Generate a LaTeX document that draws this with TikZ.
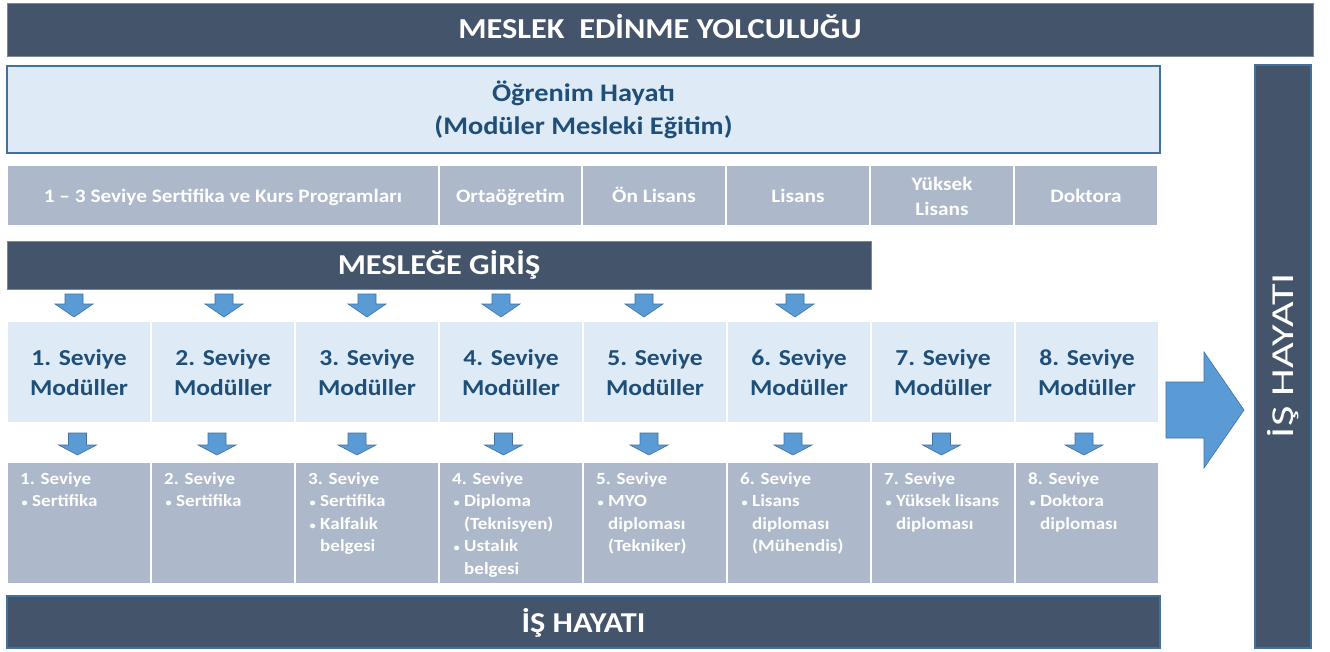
\documentclass[tikz,border=0pt]{standalone}
\usepackage{fontspec}
\setmainfont{Carlito}[FakeStretch=1.12]
\definecolor{darkbar}{HTML}{44546A}
\definecolor{lightbox}{HTML}{DEEBF7}
\definecolor{graybox}{HTML}{ADB9CA}
\definecolor{arrowblue}{HTML}{5B9BD5}
\definecolor{arrowedge}{HTML}{41719C}
\definecolor{textblue}{HTML}{1F4E79}
\tikzset{
  boxbase/.style={anchor=north west, inner sep=0pt, outer sep=0pt},
  darkbox/.style={boxbase, fill=darkbar, draw=darkbar!70!white, line width=0.8pt, text=white},
  edgedark/.style={boxbase, fill=darkbar, draw=arrowedge, line width=1.6pt, text=white},
  lightcell/.style={boxbase, fill=lightbox, draw=white, line width=1.5pt},
  graycell/.style={boxbase, fill=graybox, draw=white, line width=1.5pt},
  progtext/.style={text=white, font=\fontsize{19}{25}\selectfont\bfseries, align=center},
  leveltext/.style={text=textblue, font=\fontsize{22.8}{30}\selectfont\bfseries, align=center},
  certtext/.style={anchor=north west, inner sep=0pt, text=white, font=\fontsize{17}{22.5}\selectfont\bfseries, align=left},
  blockarrow/.style={fill=arrowblue, draw=arrowedge, line width=0.6pt}
}
\newcommand\bul[1]{\hspace*{1.5pt}\makebox[10.5pt][l]{\fontsize{11}{11}\selectfont •}#1}
\newcommand\cont[1]{\hspace*{12pt}#1}
\begin{document}
\begin{tikzpicture}[x=1pt,y=-1pt]
\useasboundingbox (0,0) rectangle (1330,652);
\fill[white] (0,0) rectangle (1330,652);

% title
\node[darkbox, minimum width=1306, minimum height=53] (title) at (7,3) {};
\node[text=white, font=\fontsize{28.9}{30}\selectfont\bfseries, anchor=base] (titletext) at ([yshift=-9.5]title.center) {MESLEK\ \ EDİNME YOLCULUĞU};

% Ogrenim hayati
\node[boxbase, fill=lightbox, draw=arrowedge, line width=1.6pt, minimum width=1153, minimum height=87] (ogr) at (7,66) {};
\node[text=textblue, font=\fontsize{25.3}{33}\selectfont\bfseries, align=center] (ogrtext) at (ogr.center) {Öğrenim Hayatı\\(Modüler Mesleki Eğitim)};

% programme row
\node[graycell, minimum width=432, minimum height=61] (p1) at (7,165) {};
\node[graycell, minimum width=143, minimum height=61] (p2) at (439,165) {};
\node[graycell, minimum width=144, minimum height=61] (p3) at (582,165) {};
\node[graycell, minimum width=144, minimum height=61] (p4) at (726,165) {};
\node[graycell, minimum width=144, minimum height=61] (p5) at (870,165) {};
\node[graycell, minimum width=144, minimum height=61] (p6) at (1014,165) {};
\node[progtext, anchor=base] (p1t) at ([yshift=-7.5]p1.center) {1 – 3 Seviye Sertifika ve Kurs Programları};
\node[progtext, anchor=base] (p2t) at ([yshift=-7.5]p2.center) {Ortaöğretim};
\node[progtext, anchor=base] (p3t) at ([yshift=-7.5]p3.center) {Ön Lisans};
\node[progtext, anchor=base] (p4t) at ([yshift=-7.5]p4.center) {Lisans};
\node[progtext] (p5t) at ([yshift=-1]p5.center) {Yüksek\\Lisans};
\node[progtext, anchor=base] (p6t) at ([yshift=-7.5]p6.center) {Doktora};

% meslege giris
\node[darkbox, minimum width=864, minimum height=48] (giris) at (7,241) {};
\node[text=white, font=\fontsize{28.8}{30}\selectfont\bfseries, anchor=base] (giristext) at ([yshift=-9.5]giris.center) {MESLEĞE GİRİŞ};

% arrows row 1
\foreach \x in {74,224,367,501,644,795}
  \draw[blockarrow] (\x-9,294) -- (\x+9,294) -- (\x+9,304) -- (\x+19,304) -- (\x,317) -- (\x-19,304) -- (\x-9,304) -- cycle;

% level modules
\foreach \i/\l in {1/7,2/151,3/295,4/439,5/583,6/727,7/871,8/1015} {
  \node[lightcell, minimum width=144, minimum height=102] (m\i) at (\l,321) {};
  \node[leveltext] (m\i t) at ([yshift=-1]m\i.center) {\i. Seviye\\Modüller};
}

% arrows row 2
\foreach \x in {77.5,217,357,503.5,649,793,941.5,1084}
  \draw[blockarrow] (\x-9,433) -- (\x+9,433) -- (\x+9,445) -- (\x+19,445) -- (\x,455) -- (\x-19,445) -- (\x-9,445) -- cycle;

% certificate boxes
\foreach \i/\l in {1/7,2/151,3/295,4/439,5/583,6/727,7/871,8/1015}
  \node[graycell, minimum width=144, minimum height=122] (c\i) at (\l,462) {};
\node[certtext] (c1t) at ([xshift=13,yshift=-10]c1.north west) {1. Seviye\\\bul{Sertifika}};
\node[certtext] (c2t) at ([xshift=13,yshift=-10]c2.north west) {2. Seviye\\\bul{Sertifika}};
\node[certtext] (c3t) at ([xshift=13,yshift=-10]c3.north west) {3. Seviye\\\bul{Sertifika}\\\bul{Kalfalık}\\\cont{belgesi}};
\node[certtext] (c4t) at ([xshift=13,yshift=-10]c4.north west) {4. Seviye\\\bul{Diploma}\\\cont{(Teknisyen)}\\\bul{Ustalık}\\\cont{belgesi}};
\node[certtext] (c5t) at ([xshift=13,yshift=-10]c5.north west) {5. Seviye\\\bul{MYO}\\\cont{diploması}\\\cont{(Tekniker)}};
\node[certtext] (c6t) at ([xshift=13,yshift=-10]c6.north west) {6. Seviye\\\bul{Lisans}\\\cont{diploması}\\\cont{(Mühendis)}};
\node[certtext] (c7t) at ([xshift=13,yshift=-10]c7.north west) {7. Seviye\\\bul{Yüksek lisans}\\\cont{diploması}};
\node[certtext] (c8t) at ([xshift=13,yshift=-10]c8.north west) {8. Seviye\\\bul{Doktora}\\\cont{diploması}};

% is hayati bottom
\node[edgedark, minimum width=1153, minimum height=52] (is) at (7,596) {};
\node[text=white, font=\fontsize{28.8}{30}\selectfont\bfseries, anchor=base] (istext) at ([yshift=-10]is.center) {İŞ HAYATI};

% right vertical bar
\node[edgedark, minimum width=56, minimum height=583] (isv) at (1255,65) {};
\node[text=white, rotate=90, font=\fontsize{32}{32}\selectfont] (isvtext) at ([yshift=1]isv.center) {\scalebox{1.24}[1]{İŞ HAYATI}};

% big arrow
\draw[blockarrow] (1166,382) -- (1204,382) -- (1204,352) -- (1244,410) -- (1204,468) -- (1204,438) -- (1166,438) -- cycle;
\end{tikzpicture}
\end{document}
